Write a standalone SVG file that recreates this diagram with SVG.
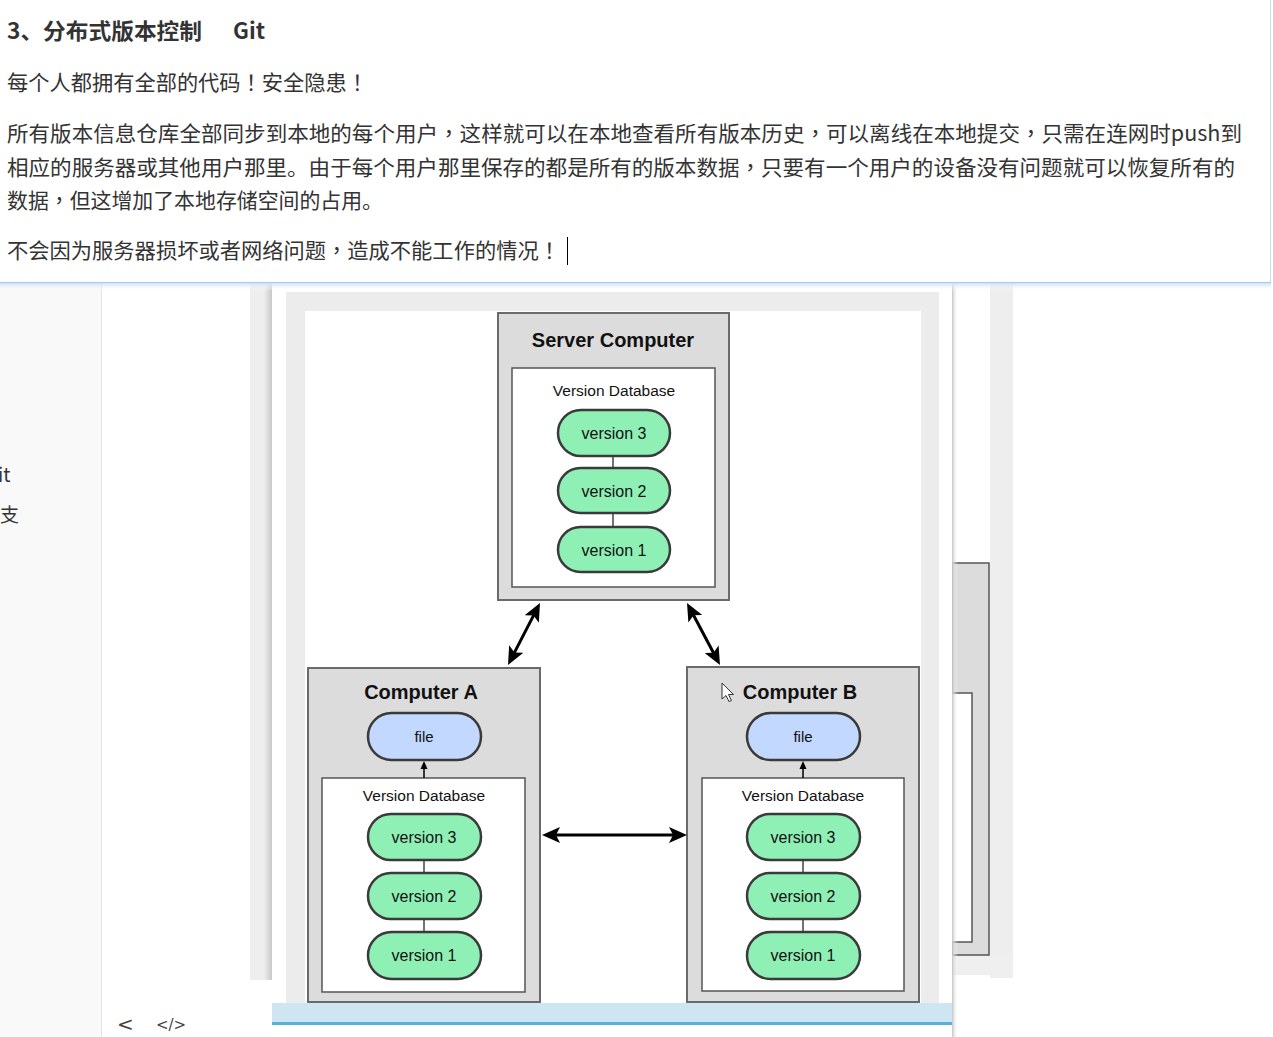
<svg xmlns="http://www.w3.org/2000/svg" width="1273" height="1037" viewBox="0 0 1273 1037">
<style>
.cn{font-family:"Noto Sans CJK SC","Noto Sans",sans-serif;fill:#333;font-size:21px}
.tc{font-family:"Noto Sans CJK TC","Noto Sans CJK SC",sans-serif}
.hd{font-weight:bold;font-size:22px}
.lbl{font-family:"Liberation Sans",Arial,sans-serif;fill:#111;text-anchor:middle}
.ttl{font-weight:bold;font-size:20px}
.db{font-size:15.5px}
.pt{font-size:16px}
.ft{font-size:15px}
.box{fill:#dcdcdc;stroke:#6a6a6a;stroke-width:2}
.inner{fill:#fff;stroke:#555;stroke-width:1.5}
.green{fill:#8ff0b6;stroke:#3a3a3a;stroke-width:2.5}
.blue{fill:#c3d8ff;stroke:#3a3a3a;stroke-width:2.5}
.link{stroke:#444;stroke-width:1.5}
.conn{stroke:#000;stroke-width:3;fill:none}
.side{font-family:"Noto Sans CJK SC","Noto Sans",sans-serif;fill:#333;font-size:19px}
.nav{font-family:"DejaVu Sans",sans-serif;fill:#444}
</style>
<defs>
<marker id="ah" viewBox="0 0 18 16" refX="8" refY="8" markerWidth="18" markerHeight="16" markerUnits="userSpaceOnUse" orient="auto-start-reverse">
<path d="M0,0 L18,8 L0,16 L4,8 Z" fill="#000"/>
</marker>
<linearGradient id="topsh" x1="0" y1="0" x2="0" y2="1">
<stop offset="0" stop-color="#cfe0f7"/>
<stop offset="1" stop-color="#ffffff" stop-opacity="0"/>
</linearGradient>
<linearGradient id="lsh" x1="0" y1="0" x2="1" y2="0">
<stop offset="0" stop-color="#eeeeee"/>
<stop offset="1" stop-color="#c8c8c8"/>
</linearGradient>
<linearGradient id="rsh" x1="0" y1="0" x2="1" y2="0">
<stop offset="0" stop-color="#c4c4c4"/>
<stop offset="1" stop-color="#ffffff" stop-opacity="0"/>
</linearGradient>
</defs>
<rect x="0" y="0" width="1273" height="1037" fill="#fff"/>
<!-- left sidebar -->
<rect x="0" y="283" width="101" height="754" fill="#f9f9f9"/>
<line x1="101.5" y1="283" x2="101.5" y2="1037" stroke="#e4e4e4"/>
<text class="side" x="-2" y="482">it</text>
<text class="side" x="0" y="522" font-size="16">支</text>
<!-- gray column left of card -->
<rect x="250" y="283" width="22" height="697" fill="#eeeeee"/>
<rect x="264" y="283" width="8" height="697" fill="url(#lsh)"/>
<!-- right background region -->
<rect x="990" y="283" width="23" height="695" fill="#eeeeee"/>
<rect x="952" y="955" width="61" height="20" fill="#efefef"/>
<rect x="952" y="563" width="37" height="392" fill="#dcdcdc" stroke="#555" stroke-width="1.5"/>
<rect x="950" y="693" width="22" height="249" fill="#fff" stroke="#555" stroke-width="1.5"/>
<!-- card -->
<rect x="272" y="283" width="680" height="742" fill="#fff"/>
<rect x="952" y="283" width="6" height="754" fill="url(#rsh)"/>
<!-- diagram frame -->
<rect x="286" y="292" width="653" height="711" fill="#ececec"/>
<rect x="305" y="311" width="616" height="692" fill="#fff"/>
<!-- bottom band -->
<rect x="272" y="1003" width="680" height="19" fill="#cde6f2"/>
<rect x="272" y="1022" width="680" height="3" fill="#55b0e0"/>

<g id="server">
<rect class="box" x="498" y="313" width="231" height="287"/>
<text class="lbl ttl" x="613" y="347">Server Computer</text>
<rect class="inner" x="512" y="368" width="203" height="219"/>
<text class="lbl db" x="614" y="396">Version Database</text>
<line class="link" x1="613" y1="456" x2="613" y2="468"/>
<line class="link" x1="613" y1="513" x2="613" y2="527"/>
<g id="server-v3"><rect class="green" x="558" y="410" width="112" height="46" rx="23"/><text class="lbl pt" x="614" y="439">version 3</text></g>
<g id="server-v2"><rect class="green" x="558" y="468" width="112" height="45" rx="22.5"/><text class="lbl pt" x="614" y="497">version 2</text></g>
<g id="server-v1"><rect class="green" x="558" y="527" width="112" height="45" rx="22.5"/><text class="lbl pt" x="614" y="556">version 1</text></g>
</g>

<g id="computerA">
<rect class="box" x="308" y="668" width="232" height="334"/>
<text class="lbl ttl" x="421" y="699">Computer A</text>
<g id="a-file"><rect class="blue" x="368" y="713" width="113" height="47" rx="23.5"/><text class="lbl ft" x="424" y="742">file</text></g>
<rect class="inner" x="322" y="778" width="203" height="214"/>
<text class="lbl db" x="424" y="801">Version Database</text>
<line class="link" x1="424" y1="860" x2="424" y2="873"/>
<line class="link" x1="424" y1="919" x2="424" y2="932"/>
<g id="a-v3"><rect class="green" x="368" y="814" width="113" height="46" rx="23"/><text class="lbl pt" x="424" y="843">version 3</text></g>
<g id="a-v2"><rect class="green" x="368" y="873" width="113" height="46" rx="23"/><text class="lbl pt" x="424" y="902">version 2</text></g>
<g id="a-v1"><rect class="green" x="368" y="932" width="113" height="47" rx="23.5"/><text class="lbl pt" x="424" y="961">version 1</text></g>
</g>

<g id="computerB">
<rect class="box" x="687" y="667" width="232" height="335"/>
<text class="lbl ttl" x="800" y="699">Computer B</text>
<g id="b-file"><rect class="blue" x="747" y="713" width="113" height="47" rx="23.5"/><text class="lbl ft" x="803" y="742">file</text></g>
<rect class="inner" x="702" y="778" width="202" height="213"/>
<text class="lbl db" x="803" y="801">Version Database</text>
<line class="link" x1="803" y1="860" x2="803" y2="873"/>
<line class="link" x1="803" y1="919" x2="803" y2="932"/>
<g id="b-v3"><rect class="green" x="747" y="814" width="113" height="46" rx="23"/><text class="lbl pt" x="803" y="843">version 3</text></g>
<g id="b-v2"><rect class="green" x="747" y="873" width="113" height="46" rx="23"/><text class="lbl pt" x="803" y="902">version 2</text></g>
<g id="b-v1"><rect class="green" x="747" y="932" width="113" height="47" rx="23.5"/><text class="lbl pt" x="803" y="961">version 1</text></g>
</g>

<g id="connectors">
<line class="conn" x1="535.4" y1="611.9" x2="512.6" y2="656.1" marker-start="url(#ah)" marker-end="url(#ah)"/>
<line class="conn" x1="691.7" y1="611.8" x2="715.3" y2="656.2" marker-start="url(#ah)" marker-end="url(#ah)"/>
<line class="conn" x1="552" y1="835" x2="677" y2="835" marker-start="url(#ah)" marker-end="url(#ah)"/>
<line x1="424" y1="778" x2="424" y2="768" stroke="#000" stroke-width="1.5"/>
<polygon points="424,761 420.5,769 427.5,769" fill="#000"/>
<line x1="803" y1="778" x2="803" y2="768" stroke="#000" stroke-width="1.5"/>
<polygon points="803,761 799.5,769 806.5,769" fill="#000"/>
</g>

<!-- mouse pointer -->
<path d="M722,683 L722,699 L726,695.5 L729,701.5 L731.5,700.5 L728.5,694.5 L733.5,694.5 Z" fill="#fff" stroke="#333" stroke-width="1"/>

<!-- top panel -->
<rect x="0" y="0" width="1270" height="282" fill="#fff"/>
<line x1="1270.5" y1="0" x2="1270.5" y2="283" stroke="#c9daf2"/>
<line x1="0" y1="282.5" x2="1271" y2="282.5" stroke="#a8c6ee"/>
<rect x="0" y="283" width="1271" height="8" fill="url(#topsh)"/>
<text class="cn hd" x="7" y="39" textLength="195" lengthAdjust="spacingAndGlyphs">3、分布式版本控制</text>
<text class="cn hd" x="233" y="39" textLength="32" lengthAdjust="spacingAndGlyphs">Git</text>
<text class="cn" x="7" y="90" textLength="361" lengthAdjust="spacingAndGlyphs">每个人都拥有全部的代码<tspan class="tc">！</tspan>安全隐患<tspan class="tc">！</tspan></text>
<text class="cn" x="7" y="141" textLength="1235" lengthAdjust="spacingAndGlyphs">所有版本信息仓库全部同步到本地的每个用户<tspan class="tc">，</tspan>这样就可以在本地查看所有版本历史<tspan class="tc">，</tspan>可以离线在本地提交<tspan class="tc">，</tspan>只需在连网时push到</text>
<text class="cn" x="7" y="175" textLength="1228" lengthAdjust="spacingAndGlyphs">相应的服务器或其他用户那里。由于每个用户那里保存的都是所有的版本数据<tspan class="tc">，</tspan>只要有一个用户的设备没有问题就可以恢复所有的</text>
<text class="cn" x="7" y="208" textLength="376" lengthAdjust="spacingAndGlyphs">数据<tspan class="tc">，</tspan>但这增加了本地存储空间的占用。</text>
<text class="cn" x="7" y="258" textLength="553" lengthAdjust="spacingAndGlyphs">不会因为服务器损坏或者网络问题<tspan class="tc">，</tspan>造成不能工作的情况<tspan class="tc">！</tspan></text>
<line x1="567.5" y1="237" x2="567.5" y2="265" stroke="#000" stroke-width="1"/>

<!-- bottom nav -->
<text class="nav" x="117" y="1031" font-size="20">&lt;</text>
<text class="nav" x="156" y="1030" font-size="15">&lt;/&gt;</text>
</svg>
